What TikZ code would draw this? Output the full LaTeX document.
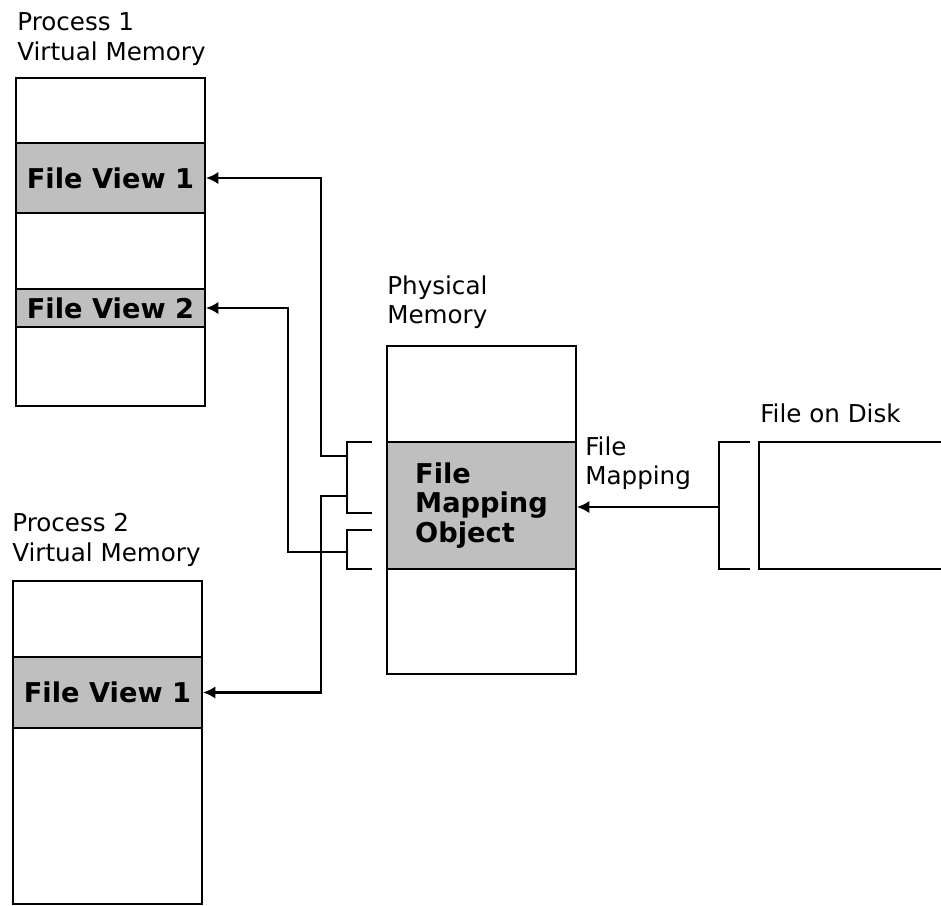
\documentclass[tikz,border=0pt]{standalone}
\usepackage{fontspec}
\setmainfont{DejaVu Sans}
\usetikzlibrary{arrows.meta}

\begin{document}
\begin{tikzpicture}[x=0.02cm,y=-0.02cm,>={Latex[length=7pt,width=7pt]},
  mem/.style={draw,line width=1.2pt,minimum width=3.78cm,inner sep=0pt},
  band/.style={mem,fill=black!25,align=left,font=\fontsize{15.5}{17}\selectfont\bfseries},
  lbl/.style={anchor=north west,inner sep=0pt,align=left,font=\fontsize{14}{17}\selectfont},
  conn/.style={line width=1.2pt}]
  \useasboundingbox (0,0) rectangle (941,906);

  % memory columns
  \node[mem,minimum height=6.56cm] (proc1) at (110.5,242) {};
  \node[mem,minimum height=6.46cm] (proc2) at (107.5,742.5) {};
  \node[mem,minimum height=6.56cm] (phys) at (481.5,510) {};
  \node[mem,minimum width=4.02cm,minimum height=2.54cm] (disk) at (859.5,505.5) {};

  % mapped regions
  \node[band,minimum height=1.4cm] (p1v1) at (110.5,178) {File View 1};
  \node[band,minimum height=0.76cm] (p1v2) at (110.5,308) {File View 2};
  \node[band,minimum height=1.42cm] (p2v1) at (107.5,692.5) {File View 1};
  \node[band,minimum height=2.54cm] (fmo) at (481.5,505.5) {File\\Mapping\\Object};

  % captions
  \node[lbl] (p1lbl) at (17,12) {Process 1\\Virtual Memory};
  \node[lbl] (p2lbl) at (12,513) {Process 2\\Virtual Memory};
  \node[lbl] (physlbl) at (387,275) {Physical\\Memory};
  \node[lbl] (disklbl) at (760,403) {File on Disk};
  \node[lbl] (maplbl) at (585,436) {File\\Mapping};

  % brackets
  \draw[conn] (372,442) -| (347,513) -- (372,513);
  \draw[conn] (372,530) -| (347,569) -- (372,569);
  \draw[conn] (750,442) -| (719,569) -- (750,569);
  \coordinate (b1up) at (347,456);
  \coordinate (b1dn) at (347,496);
  \coordinate (b2) at (347,552);
  \coordinate (dk) at (719,507);

  % connectors
  \draw[conn,->] (b1up) -- ++(-26,0) |- (p1v1.east);
  \draw[conn,->] (b1dn) -- ++(-26,0) |- (p2v1.east);
  \draw[conn,->] (b2) -- ++(-59,0) |- (p1v2.east);
  \draw[conn,->] (dk) -- (dk -| fmo.east);
\end{tikzpicture}
\end{document}
